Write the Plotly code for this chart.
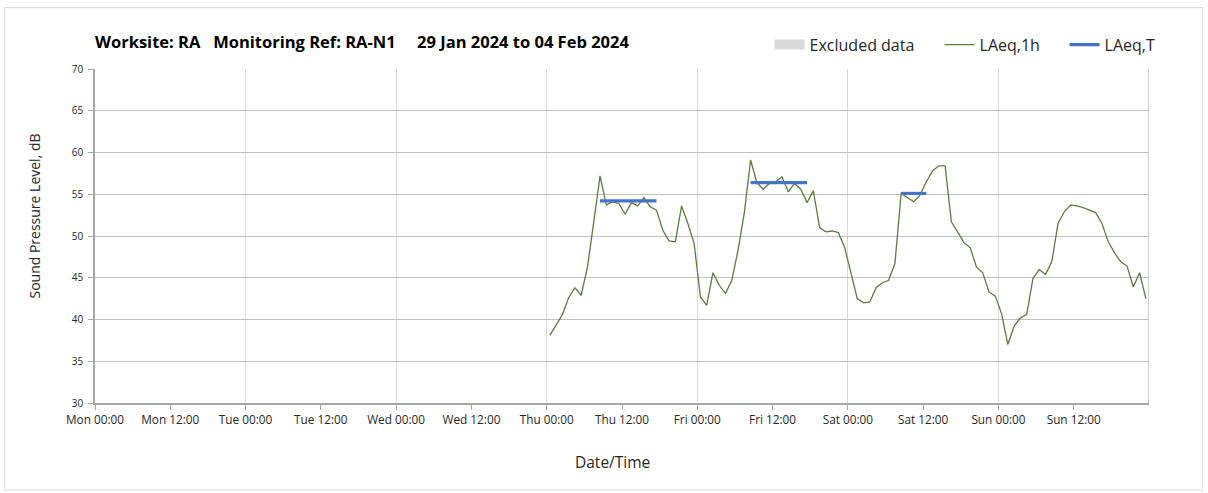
import pandas as pd
import plotly.graph_objects as go

# Hourly LAeq,1h readings (dB), one list per day, first reading at 00:30
thu_vals = [38.1, 39.3, 40.6, 42.6, 43.8, 42.9, 46.3, 51.7, 57.2, 53.7, 54.1, 53.9,
            52.6, 54.0, 53.6, 54.6, 53.5, 53.1, 50.7, 49.4, 49.3, 53.6, 51.5, 49.1]
fri_vals = [42.7, 41.7, 45.6, 44.1, 43.1, 44.7, 48.3, 52.8, 59.1, 56.4, 55.6, 56.3,
            56.5, 57.1, 55.3, 56.3, 55.6, 54.0, 55.4, 51.0, 50.5, 50.6, 50.4, 48.6]
sat_vals = [45.6, 42.5, 42.0, 42.1, 43.8, 44.4, 44.7, 46.7, 55.1, 54.6, 54.1, 54.9,
            56.5, 57.8, 58.4, 58.4, 51.7, 50.5, 49.2, 48.6, 46.3, 45.6, 43.3, 42.8]
sun_vals = [40.7, 37.0, 39.2, 40.2, 40.6, 44.9, 46.0, 45.4, 46.9, 51.5, 52.9, 53.7,
            53.6, 53.4, 53.1, 52.8, 51.5, 49.3, 48.0, 46.9, 46.4, 43.9, 45.6, 42.5]
first_reading = "2024-02-01 00:30"

# Period LAeq,T values and their start/end times
period_starts = ["2024-02-01 08:30", "2024-02-02 08:30", "2024-02-03 08:30"]
period_ends = ["2024-02-01 17:30", "2024-02-02 17:30", "2024-02-03 12:30"]
period_vals = [54.2, 56.4, 55.1]

# Axis labels
x_tick_labels = ["Mon 00:00", "Mon 12:00", "Tue 00:00", "Tue 12:00", "Wed 00:00", "Wed 12:00",
                 "Thu 00:00", "Thu 12:00", "Fri 00:00", "Fri 12:00", "Sat 00:00", "Sat 12:00",
                 "Sun 00:00", "Sun 12:00"]
y_ticks = [30, 35, 40, 45, 50, 55, 60, 65, 70]

hourly = thu_vals + fri_vals + sat_vals + sun_vals
times = pd.date_range(first_reading, periods=len(hourly), freq="h")

week_start = pd.Timestamp("2024-01-29 00:00")
week_end = pd.Timestamp("2024-02-05 00:00")
tick_vals = [week_start + pd.Timedelta(hours=12 * i) for i in range(len(x_tick_labels))]
day_lines = [week_start + pd.Timedelta(days=i) for i in range(8)]

px_, py_ = [], []
for s, e, v in zip(period_starts, period_ends, period_vals):
    px_ += [pd.Timestamp(s), pd.Timestamp(e), None]
    py_ += [v, v, None]

FONT = "Open Sans"
TXT = "#262626"
fig = go.Figure()

# legend-only entry for excluded periods
fig.add_trace(go.Scatter(x=[None], y=[None], mode="lines", name="Excluded data",
                         line=dict(color="#d9d9d9", width=10), legendwidth=125))
fig.add_trace(go.Scatter(x=times, y=hourly, mode="lines", name="LAeq,1h",
                         line=dict(color="#5b7d3e", width=1.3), legendwidth=80))
fig.add_trace(go.Scatter(x=px_, y=py_, mode="lines", name="LAeq,T",
                         line=dict(color="#4472c4", width=3.2), connectgaps=False))

L, R, T, B = 95.3, 1149.5, 69.3, 403.0
W, H = 1208, 493
pw, ph = R - L, B - T


def xp(p):
    return (p - L) / pw


def yp(p):
    return (B - p) / ph


fig.add_shape(type="rect", xref="paper", yref="paper",
              x0=xp(5), x1=xp(1203), y0=yp(490), y1=yp(8),
              line=dict(color="#d9d9d9", width=1), fillcolor="rgba(0,0,0,0)", layer="below")

# axis titles
fig.add_annotation(text="Date/Time", xref="paper", yref="paper", x=xp(613), y=yp(462),
                   xanchor="center", yanchor="middle", showarrow=False,
                   font=dict(family=FONT, size=15.5, color=TXT))
fig.add_annotation(text="Sound Pressure Level, dB", xref="paper", yref="paper",
                   x=xp(35), y=yp(216), textangle=-90,
                   xanchor="center", yanchor="middle", showarrow=False,
                   font=dict(family=FONT, size=14, color=TXT))

fig.update_layout(
    width=W, height=H,
    margin=dict(l=L, r=W - R, t=T, b=H - B),
    paper_bgcolor="white", plot_bgcolor="white",
    font=dict(family=FONT, color=TXT),
    title=dict(text="<b>Worksite: RA   Monitoring Ref: RA-N1     29 Jan 2024 to 04 Feb 2024</b>",
               xref="paper", x=0, xanchor="left",
               yref="container", y=1 - 42 / H, yanchor="middle",
               font=dict(family=FONT, size=16.5, color="#000000")),
    legend=dict(orientation="h", xanchor="left", x=xp(770), yanchor="middle", y=yp(45),
                font=dict(family=FONT, size=16, color=TXT), bgcolor="rgba(0,0,0,0)",
                itemwidth=30, traceorder="normal"),
    xaxis=dict(type="date", range=[week_start, week_end],
               tickvals=tick_vals, ticktext=x_tick_labels, tickangle=0,
               tickfont=dict(family=FONT, size=11.8, color=TXT),
               showgrid=False, ticks="outside", ticklen=5, tickcolor="#a6a6a6",
               showline=True, linecolor="#a6a6a6", linewidth=1.5,
               minor=dict(tickvals=day_lines, showgrid=True, gridcolor="#d9d9d9",
                          gridwidth=1, ticks=""),
               zeroline=False),
    yaxis=dict(range=[30, 70], tickvals=y_ticks,
               tickfont=dict(family=FONT, size=10, color=TXT),
               showgrid=True, gridcolor="#bfbfbf", gridwidth=1,
               ticks="outside", ticklen=5, tickcolor="#a6a6a6", ticklabelstandoff=3,
               showline=True, linecolor="#a6a6a6", linewidth=1.5,
               zeroline=False),
)

# closing vertical line at the end of the week
fig.add_shape(type="line", xref="x", yref="paper", x0=week_end, x1=week_end, y0=0, y1=1,
              line=dict(color="#bfbfbf", width=1.5))

fig.write_html("out.html")
